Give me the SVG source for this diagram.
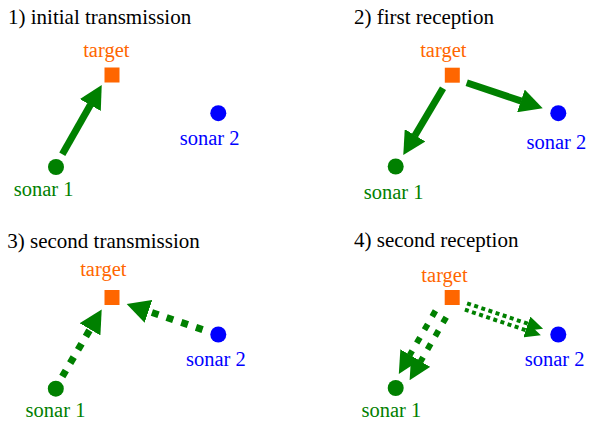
<svg xmlns="http://www.w3.org/2000/svg" width="589" height="424" viewBox="0 0 589 424">
<style>
text{font-family:"Liberation Serif","Times New Roman",serif}
.title{font-size:21px;fill:#000}
.lbl{font-size:20.5px;text-anchor:middle}
.tg{fill:#ff6600}
.s1{fill:#008000}
.s2{fill:#0000ff}
.sq{fill:#ff6600}
.solid{stroke:#008000;stroke-width:7;fill:none;marker-end:url(#head)}
.dash{stroke:#008000;stroke-width:7;fill:none;stroke-dasharray:7 8.5;marker-end:url(#head)}
.dash2{stroke:#008000;stroke-width:6;fill:none;stroke-dasharray:6.5 8.9;stroke-dashoffset:11.1;marker-end:url(#head2)}
.dash3{stroke:#008000;stroke-width:4;fill:none;stroke-dasharray:4 3.5;marker-end:url(#head3)}
</style>
<defs>
<marker id="head" viewBox="0 0 23 24" markerWidth="23" markerHeight="24" refX="0.5" refY="12" orient="auto" markerUnits="userSpaceOnUse"><path d="M0,0 L23,12 L0,24 z" fill="#008000"/></marker>
<marker id="head2" viewBox="0 0 22 22" markerWidth="22" markerHeight="22" refX="0.5" refY="11" orient="auto" markerUnits="userSpaceOnUse"><path d="M0,0 L22,11 L0,22 z" fill="#008000"/></marker>
<marker id="head3" viewBox="0 0 16 15" markerWidth="16" markerHeight="15" refX="0.5" refY="7.5" orient="auto" markerUnits="userSpaceOnUse"><path d="M0,0 L16,7.5 L0,15 z" fill="#008000"/></marker>
</defs>

<g id="panel1">
<text class="title" x="8" y="24">1) initial transmission</text>
<g id="p1-target"><rect class="sq" x="104.5" y="67.5" width="15" height="15"/><text class="lbl tg" x="106.3" y="57.3">target</text></g>
<g id="p1-sonar1"><circle class="s1" cx="56" cy="167" r="8"/><text class="lbl s1" x="43.7" y="195.5">sonar 1</text></g>
<g id="p1-sonar2"><circle class="s2" cx="218.3" cy="113.2" r="8"/><text class="lbl s2" x="209.7" y="145">sonar 2</text></g>
<g id="p1-connectors"><path class="solid" d="M62.3,154.3 L90.6,104.6"/></g>
</g>

<g id="panel2">
<text class="title" x="354" y="24">2) first reception</text>
<g id="p2-target"><rect class="sq" x="444.8" y="67.7" width="15" height="15"/><text class="lbl tg" x="443.3" y="56.7">target</text></g>
<g id="p2-sonar1"><circle class="s1" cx="395.7" cy="166.5" r="8"/><text class="lbl s1" x="393.7" y="198.5">sonar 1</text></g>
<g id="p2-sonar2"><circle class="s2" cx="558.3" cy="113.2" r="8"/><text class="lbl s2" x="556.3" y="149">sonar 2</text></g>
<g id="p2-connectors">
<path class="solid" d="M443,88.3 L414.8,135.7"/>
<path class="solid" d="M466.7,82.7 L521.4,101.1"/>
</g>
</g>

<g id="panel3">
<text class="title" x="7.3" y="248">3) second transmission</text>
<g id="p3-target"><rect class="sq" x="104.5" y="290" width="15" height="15"/><text class="lbl tg" x="103.3" y="276">target</text></g>
<g id="p3-sonar1"><circle class="s1" cx="55.8" cy="388.7" r="8"/><text class="lbl s1" x="55.5" y="417.3">sonar 1</text></g>
<g id="p3-sonar2"><circle class="s2" cx="218.3" cy="334.5" r="8"/><text class="lbl s2" x="215.8" y="366">sonar 2</text></g>
<g id="p3-connectors">
<path class="dash" d="M62.3,376.5 L90.3,328.9"/>
<path class="dash" d="M202.6,329.6 L148,311.2"/>
</g>
</g>

<g id="panel4">
<text class="title" x="354" y="247">4) second reception</text>
<g id="p4-target"><rect class="sq" x="444.7" y="290" width="15" height="15"/><text class="lbl tg" x="444.5" y="282.3">target</text></g>
<g id="p4-sonar1"><circle class="s1" cx="395.7" cy="388" r="8"/><text class="lbl s1" x="391.3" y="416.7">sonar 1</text></g>
<g id="p4-sonar2"><circle class="s2" cx="558.3" cy="334.5" r="8"/><text class="lbl s2" x="554.7" y="366">sonar 2</text></g>
<g id="p4-connectors">
<path class="dash2" d="M437.6,307.1 L409.6,355.3"/>
<path class="dash2" d="M448.4,313.5 L420.4,361.7"/>
<path class="dash3" d="M467.1,303.3 L528.4,323.9"/>
<path class="dash3" d="M464.9,309.7 L526.2,330.3"/>
</g>
</g>
</svg>
